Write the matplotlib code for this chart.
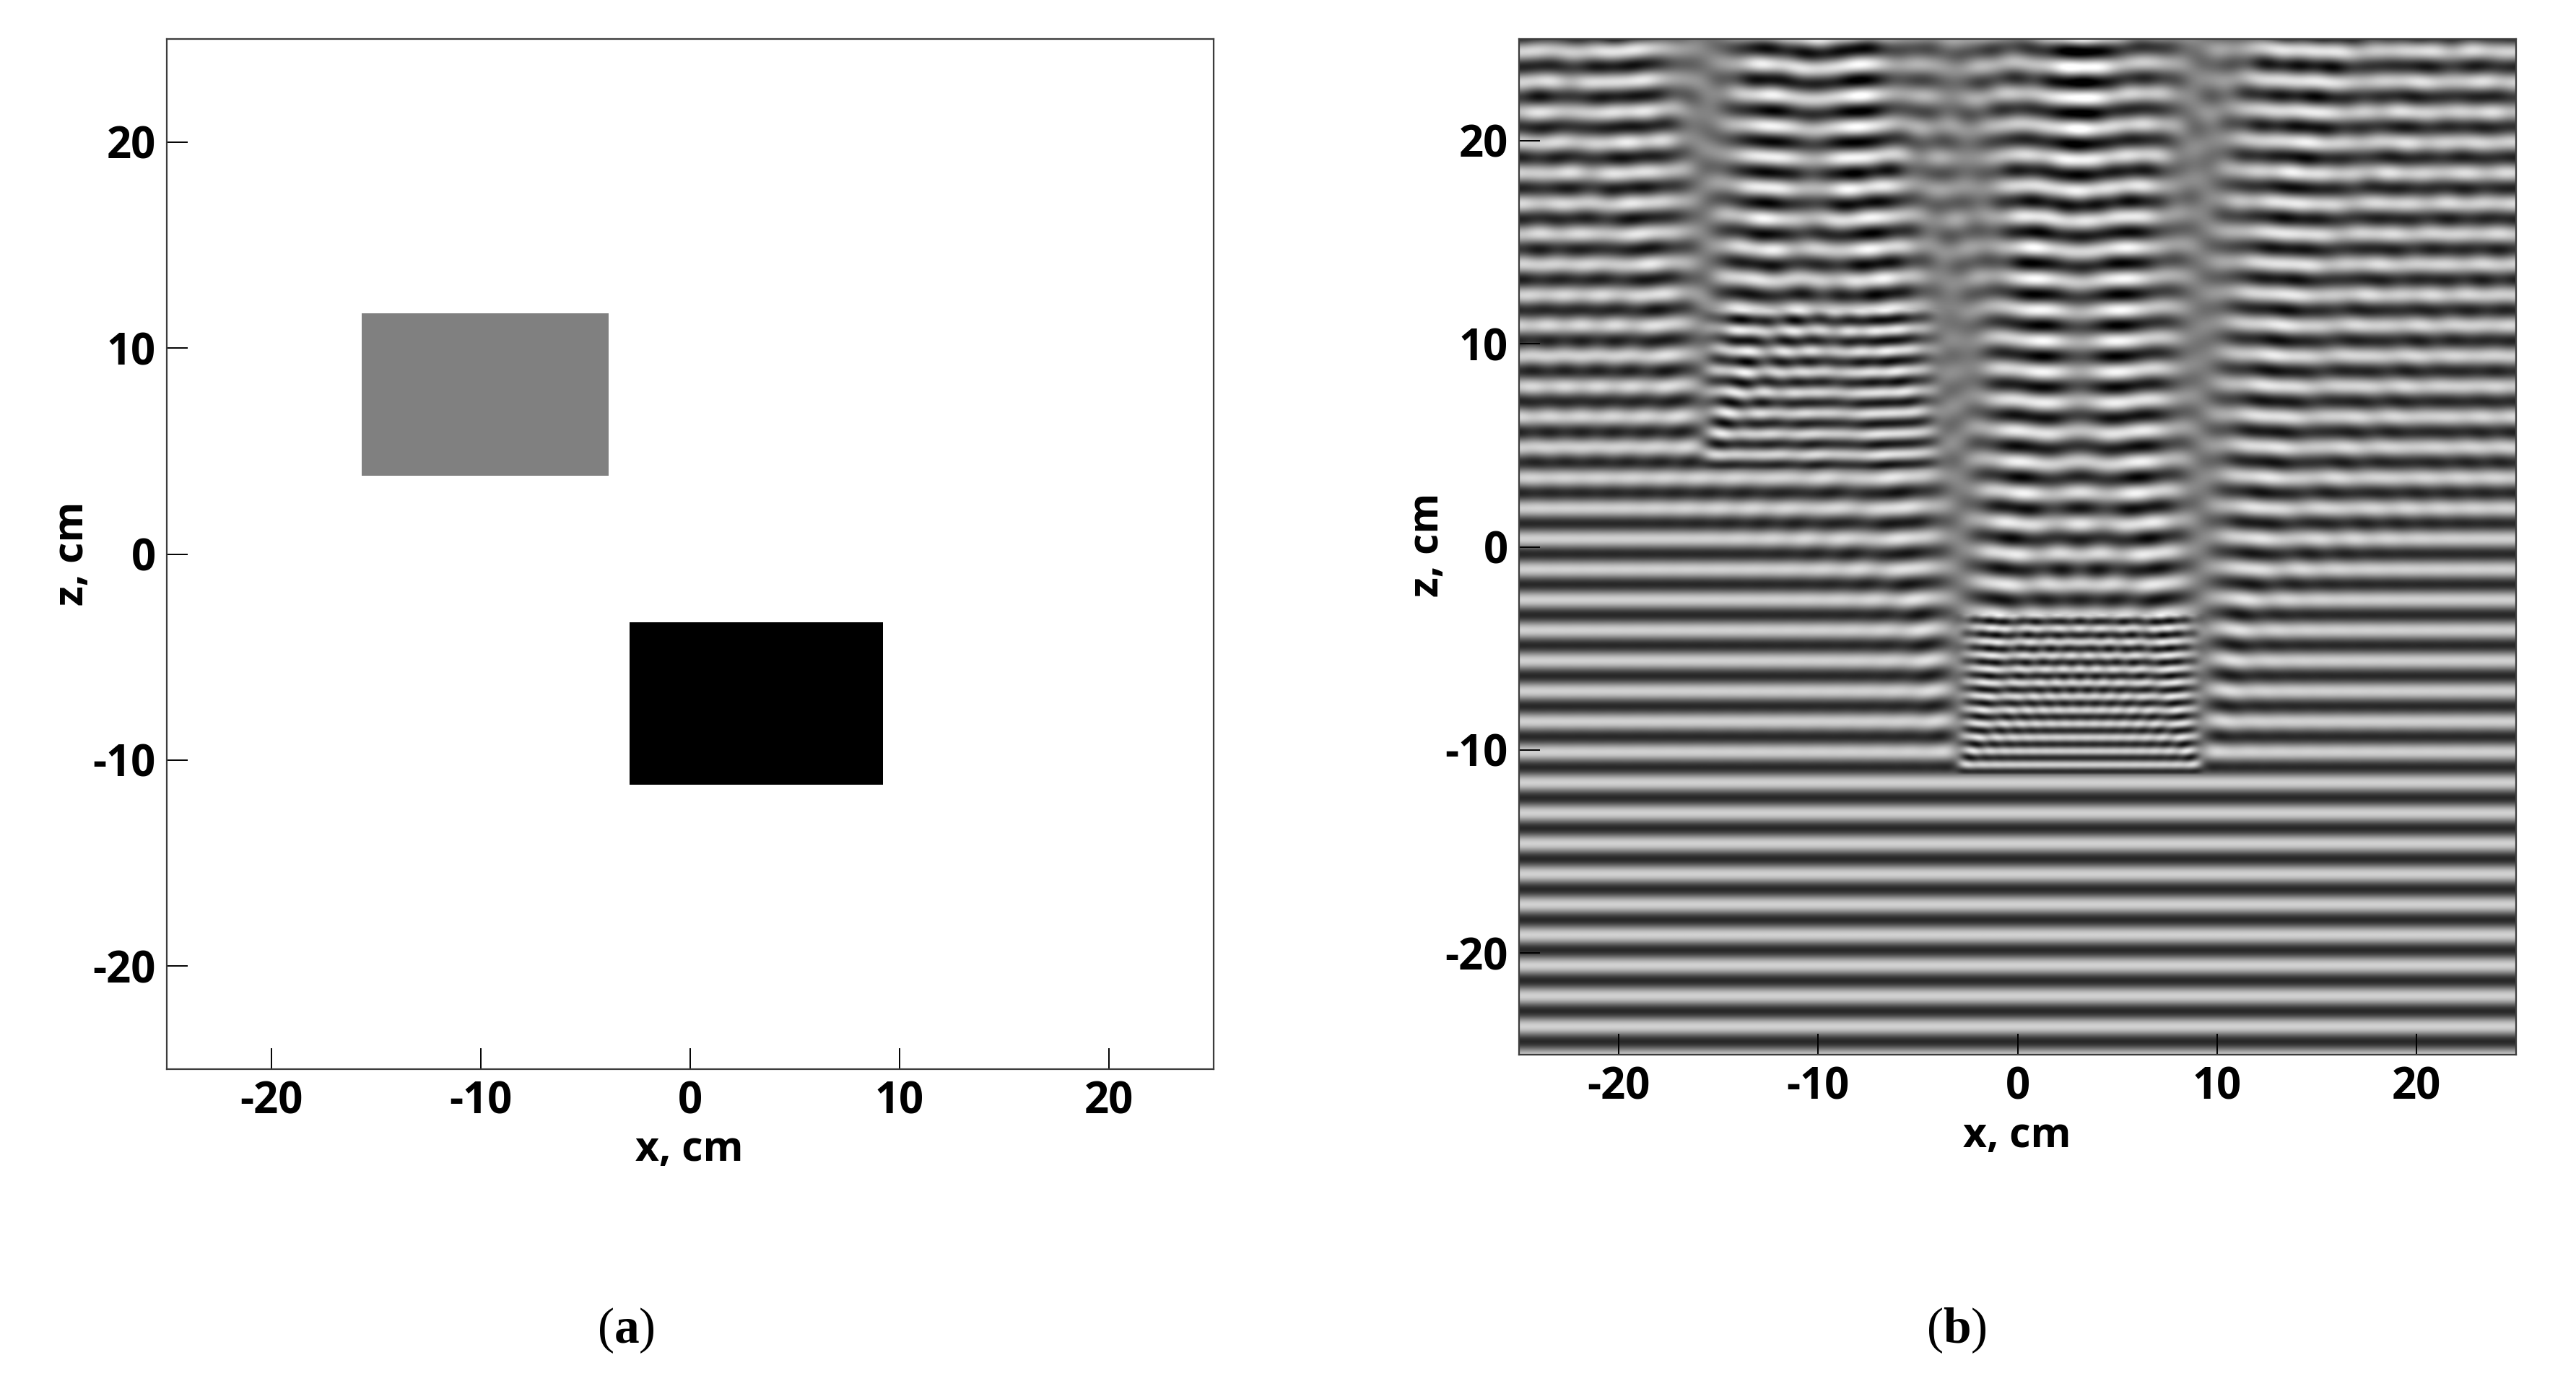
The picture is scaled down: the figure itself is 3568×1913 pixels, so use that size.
import numpy as np
import matplotlib
matplotlib.use("Agg")
import matplotlib.pyplot as plt
from matplotlib.patches import Rectangle

W, H = 3568, 1913

# ---- values ----
x_ticks = [-20, -10, 0, 10, 20]
z_ticks = [-20, -10, 0, 10, 20]
x_tick_labels = ["-20", "-10", "0", "10", "20"]
z_tick_labels = ["-20", "-10", "0", "10", "20"]
x_limits = [-25, 25]
z_limits = [-25, 25]
x_label = "x, cm"
z_label = "z, cm"

# rectangles of panel (a)
obj_x_left = [-15.7, -2.9]
obj_x_right = [-3.9, 9.2]
obj_z_bottom = [3.8, -11.2]
obj_z_top = [11.7, -3.3]
obj_grey = [0.5, 0.0]

# estimates from the fringes of panel (b)
fringe_period_cm = 1.5      # spacing of the bands below the objects
first_light_band_z = -23.55 # a light band in the free region
obj_fringe_period_cm = [1.017, 0.671]  # spacing of the bands inside each object

# NOTE: panel (b) is a MODEL, not measured pixel values: a plane wave is
# propagated upward through the rectangles above (angular spectrum method) so
# that the fringes look like the reference. Individual fringes are approximate.
def wave_field(nx=600, nz=1000):
    dx = (x_limits[1] - x_limits[0]) / nx
    dz = (z_limits[1] - z_limits[0]) / nz
    xs = x_limits[0] + dx * (np.arange(nx) + 0.5)
    zs = z_limits[0] + dz * (np.arange(nz) + 0.5)
    k0 = 2 * np.pi / fringe_period_cm
    kx = 2 * np.pi * np.fft.fftfreq(nx, dx)
    n_obj = [fringe_period_cm / p for p in obj_fringe_period_cm]

    def propagator(n_ref):
        kz2 = (n_ref * k0) ** 2 - kx**2
        return np.where(kz2 > 0, np.exp(1j * np.sqrt(np.maximum(kz2, 0)) * dz), 0)

    free = propagator(1.0)
    props = [propagator(n) for n in n_obj]
    smooth = np.exp(-0.5 * (kx * 0.13) ** 2)
    # damp, rather than remove, lateral wavenumbers above k0 outside an object
    free_band = np.where(np.abs(kx) > k0, 0.93, 1.0)

    E = np.ones(nx, dtype=complex) * np.exp(1j * k0 * (zs[0] - first_light_band_z))
    out = np.zeros((nz, nx))
    for j, z in enumerate(zs):
        prop = free
        inside = None
        for i in range(len(obj_x_left)):
            if obj_z_bottom[i] <= z <= obj_z_top[i]:
                inside = (xs >= obj_x_left[i]) & (xs <= obj_x_right[i])
                E = E * np.where(inside, 1.0, np.exp(1j * k0 * (1.0 - n_obj[i]) * dz))
                prop = props[i]
        E = np.fft.ifft(np.fft.fft(E) * prop)
        if inside is not None:
            part = np.fft.ifft(np.fft.fft(E * ~inside) * free_band)
            E = np.where(inside, E, part)
        out[j] = np.real(np.fft.ifft(np.fft.fft(E) * smooth))
    return out

def place(x0, x1, y_top, y_bottom):
    return fig.add_axes([x0 / W, 1 - y_bottom / H, (x1 - x0) / W, (y_bottom - y_top) / H])

def style(ax, xlab_px, ylab_px, box):
    x0, x1, yt, yb = box
    ax.set_xlim(x_limits)
    ax.set_ylim(z_limits)
    ax.set_xticks(x_ticks, x_tick_labels)
    ax.set_yticks(z_ticks, z_tick_labels)
    ax.tick_params(direction="in", length=21, width=1.4, color="black", pad=11,
                   top=False, right=False)
    for lab in ax.get_xticklabels() + ax.get_yticklabels():
        lab.set(fontfamily=FONT, fontweight="bold", fontsize=TICK_FS, color="black")
    for s in ax.spines.values():
        s.set_linewidth(1.6)
        s.set_color("#3c3c3c")
    ax.set_xlabel(x_label, fontfamily=FONT, fontweight="bold", fontsize=LABEL_FS, va="center", ha="center")
    ax.set_ylabel(z_label, fontfamily=FONT, fontweight="bold", fontsize=LABEL_FS, va="center", ha="center")
    ax.xaxis.set_label_coords((xlab_px[0] - x0) / (x1 - x0), (yb - xlab_px[1]) / (yb - yt))
    ax.yaxis.set_label_coords((ylab_px[0] - x0) / (x1 - x0), (yb - ylab_px[1]) / (yb - yt))

FONT = "Open Sans"
TICK_FS = 43
LABEL_FS = 41

plt.rcParams["mathtext.fontset"] = "custom"
plt.rcParams["mathtext.rm"] = "Liberation Serif"
plt.rcParams["mathtext.bf"] = "Liberation Serif:bold"

fig = plt.figure(figsize=(W / 100, H / 100), dpi=100, facecolor="white")

box_a = (231, 1681, 54, 1481)
ax_a = place(*box_a)
for i in range(len(obj_x_left)):
    ax_a.add_patch(Rectangle((obj_x_left[i], obj_z_bottom[i]),
                             obj_x_right[i] - obj_x_left[i],
                             obj_z_top[i] - obj_z_bottom[i],
                             facecolor=str(obj_grey[i]), edgecolor="none"))
style(ax_a, (955, 1593), (100, 767), box_a)

box_b = (2104, 3485, 54, 1461)
ax_b = place(*box_b)
field = wave_field()
ax_b.imshow(0.49 + 0.33 * field, cmap="gray", vmin=0, vmax=1, origin="lower",
            extent=x_limits + z_limits, aspect="auto", interpolation="bilinear")
style(ax_b, (2794, 1574), (1977, 755), box_b)

fig.text(867 / W, 1 - 1843 / H, r"($\mathbf{a}$)", fontfamily="Liberation Serif", fontsize=50,
         ha="center", va="center", math_fontfamily="custom")
fig.text(2710 / W, 1 - 1843 / H, r"($\mathbf{b}$)", fontfamily="Liberation Serif", fontsize=50,
         ha="center", va="center", math_fontfamily="custom")

fig.savefig("out.png", dpi=100, facecolor="white")
